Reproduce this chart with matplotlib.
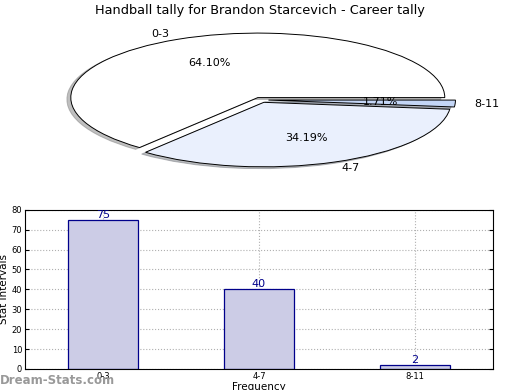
import matplotlib
matplotlib.use("Agg")
import matplotlib.pyplot as plt
import numpy as np

# data
categories = ["0-3", "4-7", "8-11"]
counts = [75, 40, 2]
pie_colors = ["#ffffff", "#eaf0fd", "#c4d6f6"]
title = "Handball tally for Brandon Starcevich - Career tally"


def main():
    fig = plt.figure(figsize=(5.2, 3.9), dpi=100)

    # pie (stretched to an ellipse like the old renderer)
    ax1 = fig.add_axes([0.0524, 0.537, 0.899, 0.4135])
    wedges, texts, autotexts = ax1.pie(
        counts, labels=categories, colors=pie_colors, explode=[0.04] * 3,
        autopct="%.2f%%", startangle=0, counterclock=True,
        shadow={"ox": -0.015, "oy": -0.02, "shade": 0.5},
        wedgeprops={"edgecolor": "black", "linewidth": 0.7},
        textprops={"fontsize": 8})
    ax1.set_aspect("auto")
    ax1.set_xlim(-1.25, 1.25)
    ax1.set_ylim(-1.25, 1.25)
    fig.text(0.5, 0.974, title, ha="center", va="center", fontsize=9.3)

    # bar chart
    ax2 = fig.add_axes([0.048, 0.054, 0.9, 0.408])
    x = np.arange(len(categories))
    ax2.bar(x, counts, width=0.45, color="#ccccE6", edgecolor="#00008b",
            linewidth=0.9, zorder=2)
    for xi, v in zip(x, counts):
        ax2.text(xi, v, str(v), ha="center", va="bottom", color="#00008b",
                 fontsize=8, zorder=3)
    ax2.set_xlim(-0.5, 2.5)
    ax2.set_ylim(0, 80)
    ax2.set_xticks(x)
    ax2.set_xticklabels(categories)
    ax2.set_yticks(range(0, 81, 10))
    ax2.tick_params(labelsize=6, direction="in", length=3, right=True,
                    top=False, pad=2)
    ax2.grid(True, linestyle=":", color="#b0b0b0", linewidth=0.8, zorder=0)
    ax2.set_axisbelow(True)
    ax2.set_ylabel("Stat Intervals", fontsize=7.5, labelpad=2)
    ax2.set_xlabel("Frequency", fontsize=7.5, labelpad=1)

    fig.text(0.0, 0.025, "Dream-Stats.com", color="#999999", fontsize=8.5,
             fontweight="bold", ha="left", va="center")

    fig.savefig("out.png", dpi=100)
    plt.close(fig)


if __name__ == "__main__":
    main()
